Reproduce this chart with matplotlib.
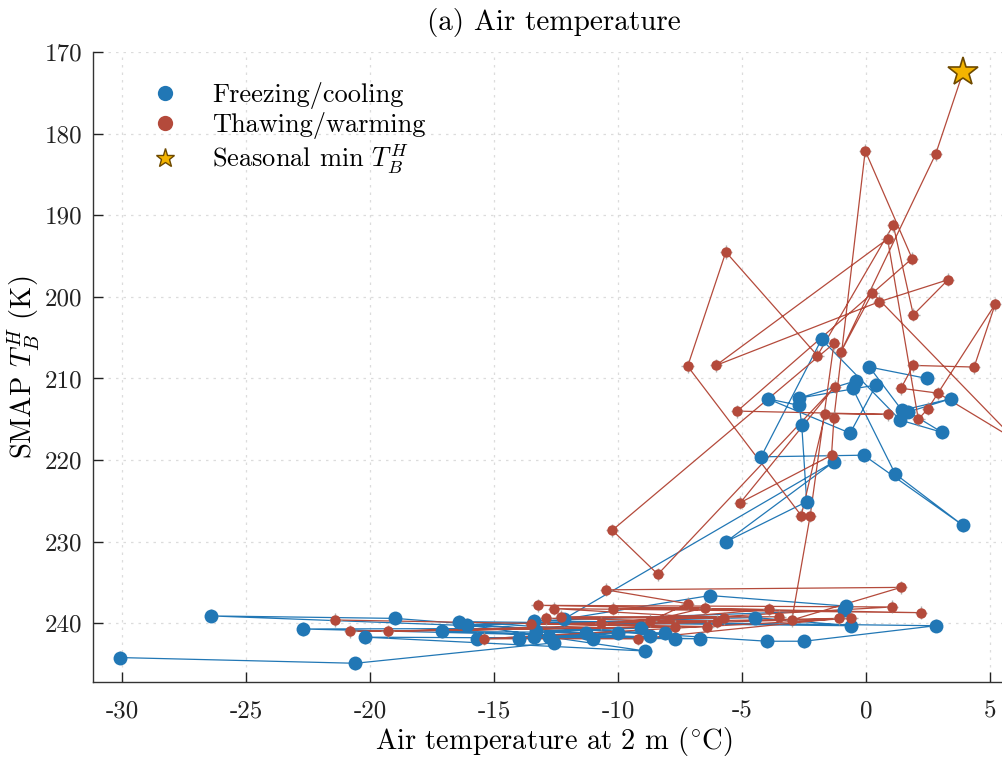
import numpy as np
import matplotlib
matplotlib.use("Agg")
import matplotlib.pyplot as plt
from matplotlib.lines import Line2D

plt.rcParams['font.family'] = 'serif'
plt.rcParams['font.serif'] = ['cmr10', 'DejaVu Serif']
plt.rcParams['mathtext.fontset'] = 'cm'
plt.rcParams['axes.unicode_minus'] = False
plt.rcParams['axes.formatter.use_mathtext'] = False

# Freezing / cooling period: air temperature (deg C) and T_B^H (K), in time order
freeze_t = [2.45, 0.13, 1.44, 3.4, 1.7, 3.06, 1.37, -1.8, -4.24, -0.1, 3.9, 1.17,
            -0.55, -0.43, -2.7, 0.4, -0.65, -3.96, -2.7, -2.6, -2.4,
            -5.65, -1.3, -12.2, -6.3, -0.8, -0.9, -13.4, 2.8, -2.5, -4.0, -16.4,
            -0.6, -4.5, -16.1, -8.9, -20.2, -6.7, -22.7, -9.1, -13.3, -7.7, -17.1,
            -8.1, -26.4, -19.0, -11.3, -14.0, -10.0, -15.7, -8.7, -13.4, -11.0,
            -12.8, -12.6, -20.6, -30.1]
freeze_tb = [210.0, 208.6, 213.9, 212.5, 214.1, 216.6, 215.1, 205.2, 219.6, 219.4, 228.0, 221.7,
             211.2, 210.3, 212.4, 210.8, 216.7, 212.5, 213.3, 215.7, 225.1,
             230.0, 220.2, 239.5, 236.6, 237.9, 238.4, 239.7, 240.3, 242.2, 242.2, 239.8,
             240.3, 239.3, 240.2, 243.4, 241.7, 241.9, 240.7, 240.6, 241.0, 241.9, 241.0,
             241.2, 239.1, 239.4, 241.2, 241.9, 241.2, 241.9, 241.6, 241.7, 241.9,
             241.7, 242.4, 244.9, 244.2]

# Thawing / warming period (last point is the seasonal minimum of T_B^H)
thaw_t = [-21.4, -6.4, -20.8, -7.7, -19.3, -0.6, -15.4, -9.2, -1.1, -13.5, -6.0, -12.9,
          -3.5, -12.3, -5.75, -12.6, 2.2, -13.25, 1.05, -10.7, -3.9, -10.2, -6.5, -8.7,
          -7.2, -10.5, 1.4, -3.0, -2.26, -1.3, -10.24, -8.4, -1.27, -5.07, -1.4, -1.3,
          -0.04, 1.85, -5.2, 0.87, -1.65, -2.62, -7.2, -5.66, -1.97, 1.09, 1.9, 3.3,
          0.52, -6.06, 0.86, 2.1, 2.49, 5.2, 4.35, 1.9, 1.4, 2.9, 6.0, 0.25, -1.03,
          2.8, 3.9]
thaw_tb = [239.6, 240.4, 241.0, 240.4, 241.0, 239.4, 241.9, 241.9, 239.4, 240.1, 239.8, 239.4,
           239.2, 239.2, 239.4, 238.2, 238.7, 237.8, 238.0, 240.0, 238.3, 238.2, 238.1, 239.7,
           237.6, 235.9, 235.6, 239.6, 226.8, 205.7, 228.6, 234.0, 211.0, 225.2, 219.4, 214.8,
           182.1, 195.3, 214.0, 214.4, 214.3, 226.8, 208.5, 194.5, 207.2, 191.2, 202.2, 197.9,
           200.6, 208.4, 192.9, 215.0, 213.7, 200.9, 208.6, 208.4, 211.2, 211.8, 217.5, 199.5, 206.8,
           182.5, 172.5]

tb_err = 0.8
t_err = 0.25

blue = '#2177b5'
red = '#b44a3b'
err_col = '#9a9a9a'

fig = plt.figure(figsize=(10.02, 7.59), dpi=100)
ax = fig.add_axes([0.093, 0.1014, 0.92, 0.83])

ax.grid(True, color='#dcdcdc', linestyle=(0, (2, 4)), linewidth=0.9)
ax.set_axisbelow(True)

# connecting lines
ax.plot(freeze_t, freeze_tb, '-', color=blue, lw=0.9, zorder=2)
ax.plot(thaw_t, thaw_tb, '-', color=red, lw=0.9, zorder=2)

# error crosses
ax.errorbar(freeze_t, freeze_tb, xerr=t_err, yerr=tb_err, fmt='none',
            ecolor=err_col, elinewidth=1.0, capsize=0, zorder=3, alpha=0.8)
ax.errorbar(thaw_t[:-1], thaw_tb[:-1], xerr=t_err, yerr=tb_err, fmt='none',
            ecolor=err_col, elinewidth=1.0, capsize=0, zorder=3, alpha=0.8)

ax.plot(freeze_t, freeze_tb, 'o', color=blue, ms=10, mec='none', zorder=4)
ax.plot(thaw_t[:-1], thaw_tb[:-1], 'o', color=red, ms=7.5, mec='none', zorder=5)

# seasonal minimum of T_B^H
ax.plot(thaw_t[-1], thaw_tb[-1], '*', ms=22, mfc='#f4b400', mec='#6e4a00',
        mew=1.2, zorder=6)

ax.set_xlim(-31.17, 6.0)
ax.set_ylim(247.2, 170)
ax.set_xticks(np.arange(-30, 6, 5))
ax.set_yticks(np.arange(170, 241, 10))

ax.spines['top'].set_visible(False)
ax.spines['right'].set_visible(False)
for s in ['left', 'bottom']:
    ax.spines[s].set_color('#333333')
    ax.spines[s].set_linewidth(1.0)
ax.tick_params(direction='in', length=7, width=1.0, labelsize=18, colors='#222222')
ax.tick_params(axis='x', pad=13)
ax.tick_params(axis='y', pad=8)

ax.set_xlabel(r'Air temperature at 2 m $(^{\circ}\mathrm{C})$', fontsize=20.5, labelpad=2)
ax.set_ylabel(r'SMAP $T_B^H$ (K)', fontsize=20.5, labelpad=2)
ax.set_title('(a) Air temperature', fontsize=21, pad=16)

handles = [
    Line2D([], [], marker='o', ls='none', color=blue, ms=11, mec='none'),
    Line2D([], [], marker='o', ls='none', color=red, ms=11, mec='none'),
    Line2D([], [], marker='*', ls='none', ms=14, mfc='#f4b400', mec='#6e4a00', mew=1.0),
]
labels = ['Freezing/cooling', 'Thawing/warming', r'Seasonal min $T_B^H$']
ax.legend(handles, labels, loc='upper left', bbox_to_anchor=(0.023, 0.99),
          frameon=False, fontsize=19, handletextpad=0.8, labelspacing=0.1)

fig.savefig('out.png', dpi=100)
